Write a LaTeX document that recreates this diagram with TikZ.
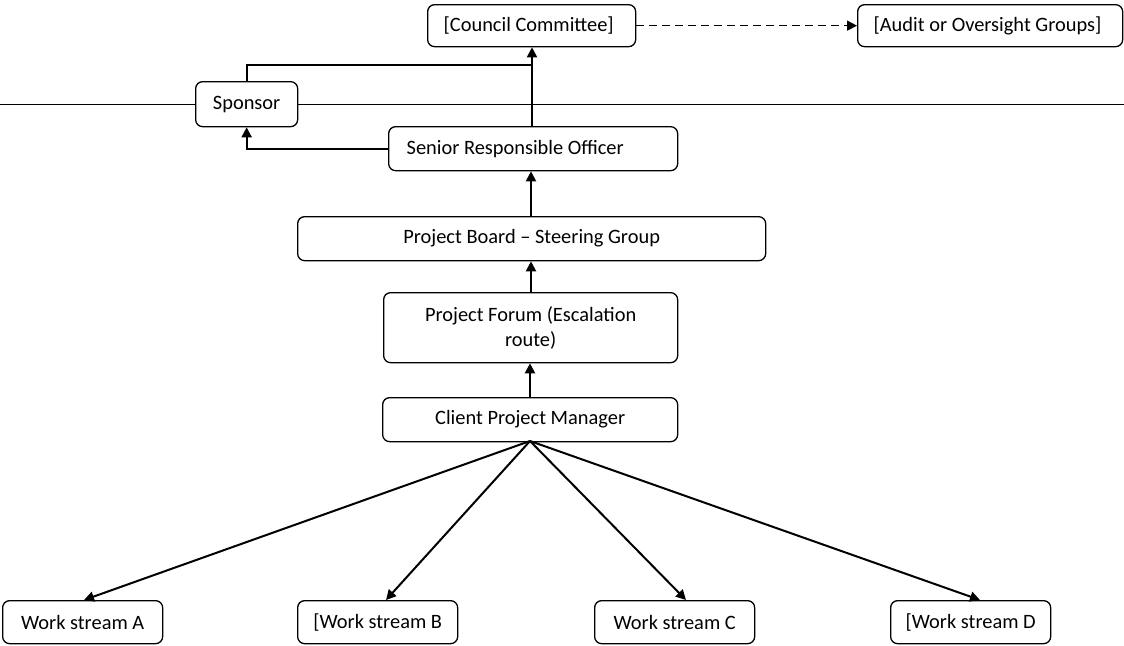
\documentclass[tikz,border=0pt]{standalone}
\usepackage{fontspec}
\setmainfont{Carlito}
\usetikzlibrary{arrows.meta}
\begin{document}
\begin{tikzpicture}[x=0.5pt,y=-0.5pt,
  box/.style={draw,fill=white,rounded corners=3.5pt,line width=0.65pt,anchor=north west,inner sep=0pt,font=\fontsize{10.2}{12.5}\selectfont},
  conn/.style={line width=1pt,-{Triangle[length=5pt,width=5pt]}},
  plain/.style={line width=1pt}]
\useasboundingbox (0,0) rectangle (1124,645);
\draw[line width=0.5pt] (0,104) -- (1124,104);
\node[box,minimum width=104pt,minimum height=21pt,align=flush left,text width=88pt] (cc) at (427,4) {[Council Committee]};
\node[box,minimum width=132.5pt,minimum height=21pt,align=flush left,text width=116.5pt] (au) at (857,4) {[Audit or Oversight Groups]};
\node[box,minimum width=51pt,minimum height=22.5pt] (sp) at (195,81) {Sponsor};
\node[box,minimum width=144.5pt,minimum height=22pt,align=flush left,text width=126.5pt] (sro) at (388,126) {Senior Responsible Officer};
\node[box,minimum width=234pt,minimum height=22pt] (pb) at (297,216) {Project Board – Steering Group};
\node[box,minimum width=147pt,minimum height=35pt,align=flush center,text width=130pt] (pf) at (383,292) {Project Forum (Escalation\\route)};
\node[box,minimum width=147.5pt,minimum height=22pt] (cpm) at (382,397) {Client Project Manager};
\node[box,minimum width=80pt,minimum height=21.5pt] (wa) at (2,600) {Work stream A};
\node[box,minimum width=80pt,minimum height=21.5pt] (wb) at (297,600) {[Work stream B};
\node[box,minimum width=80pt,minimum height=21.5pt] (wc) at (594,600) {Work stream C};
\node[box,minimum width=80pt,minimum height=21.5pt] (wd) at (890,600) {[Work stream D};
% top connectors
\draw[line width=0.75pt,dash pattern=on 4pt off 2.5pt,-{Triangle[length=5pt,width=5pt]}] (cc.east) -- (au.west);
\draw[conn] (sro.north -| 532,0) -- (cc.south -| 532,0);
\draw[plain] (sp.north) -- ++(0,-16) -| (532,58);
\draw[conn] (sro.west) -| (sp.south);
\draw[conn] (pb.north -| 531,0) -- (sro.south -| 531,0);
\draw[conn] (pf.north -| 531,0) -- (pb.south -| 531,0);
\draw[conn] (cpm.north -| 530,0) -- (pf.south -| 530,0);
\coordinate (hub) at (530,441);
\draw[conn] (hub) -- (84,600);
\draw[conn] (hub) -- (386,600);
\draw[conn] (hub) -- (686,600);
\draw[conn] (hub) -- (980,600);
\end{tikzpicture}
\end{document}
